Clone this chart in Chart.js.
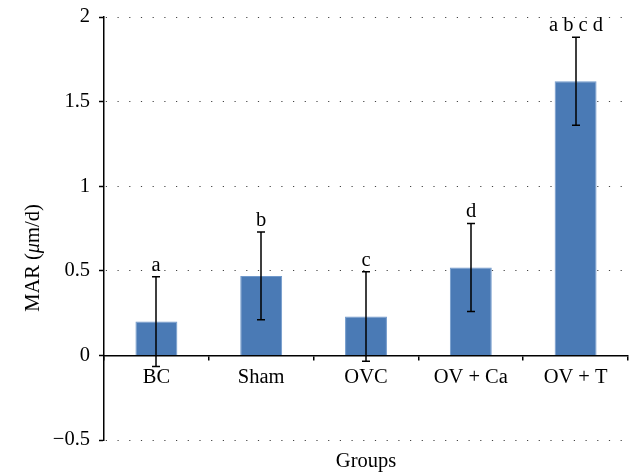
<!DOCTYPE html>
<html>
<head>
<meta charset="utf-8">
<script src="https://cdn.jsdelivr.net/npm/chart.js@4/dist/chart.umd.min.js"></script>
<style>
  html, body { margin: 0; padding: 0; background: #ffffff; }
  #wrap { width: 635px; height: 473px; position: relative; }
</style>
</head>
<body>
<div id="wrap"><canvas id="c" width="635" height="473"></canvas></div>
<script>
// Mineral apposition rate by group
const groups = ['BC', 'Sham', 'OVC', 'OV + Ca', 'OV + T'];
const marMeans = [0.20, 0.47, 0.23, 0.52, 1.62];
const marErrors = [0.265, 0.26, 0.265, 0.26, 0.26];
const sigLetters = ['a', 'b', 'c', 'd', 'a b c d'];
const yTicks = [-0.5, 0, 0.5, 1, 1.5, 2];

const SERIF = '"Liberation Serif", "DejaVu Serif", serif';
const FONT_SIZE = 20.5;

// Error bars, significance letters and axis titles
const overlay = {
  id: 'overlay',
  afterDatasetsDraw(chart) {
    const ctx = chart.ctx;
    const x = chart.scales.x;
    const y = chart.scales.y;
    const area = chart.chartArea;
    ctx.save();
    ctx.strokeStyle = '#000';
    ctx.lineWidth = 1.5;
    ctx.fillStyle = '#000';
    ctx.font = FONT_SIZE + 'px ' + SERIF;
    ctx.textAlign = 'center';
    ctx.textBaseline = 'alphabetic';
    groups.forEach((g, i) => {
      const cx = Math.round(x.getPixelForValue(i));
      const top = y.getPixelForValue(marMeans[i] + marErrors[i]);
      const bot = y.getPixelForValue(marMeans[i] - marErrors[i]);
      ctx.beginPath();
      ctx.moveTo(cx, top); ctx.lineTo(cx, bot);
      ctx.moveTo(cx - 4, top); ctx.lineTo(cx + 4, top);
      ctx.moveTo(cx - 4, bot); ctx.lineTo(cx + 4, bot);
      ctx.stroke();
      ctx.fillText(sigLetters[i], cx, top - 6);
    });

    // x-axis title
    ctx.fillText('Groups', (area.left + area.right) / 2, 467);

    // y-axis title with italic mu
    const parts = [
      { t: 'MAR (', f: FONT_SIZE + 'px ' + SERIF },
      { t: 'μ', f: 'italic ' + FONT_SIZE + 'px ' + SERIF },
      { t: 'm/d)', f: FONT_SIZE + 'px ' + SERIF }
    ];
    let total = 0;
    parts.forEach(p => { ctx.font = p.f; p.w = ctx.measureText(p.t).width; total += p.w; });
    ctx.translate(39, 258);
    ctx.rotate(-Math.PI / 2);
    ctx.textAlign = 'left';
    let px = -total / 2;
    parts.forEach(p => { ctx.font = p.f; ctx.fillText(p.t, px, 0); px += p.w; });
    ctx.restore();
  }
};

new Chart(document.getElementById('c'), {
  type: 'bar',
  data: {
    labels: groups,
    datasets: [{
      data: marMeans,
      backgroundColor: '#4a7ab5',
      borderColor: '#7099cb',
      borderWidth: 1,
      categoryPercentage: 1.0,
      barPercentage: 0.4
    }]
  },
  options: {
    responsive: false,
    animation: false,
    devicePixelRatio: 1,
    layout: { padding: { left: 0, right: 7, top: 17, bottom: 33 } },
    plugins: {
      legend: { display: false },
      tooltip: { enabled: false }
    },
    scales: {
      x: {
        type: 'category',
        position: { y: 0 },
        offset: true,
        border: { display: true, color: '#000', width: 1.5 },
        grid: {
          offset: true,
          drawOnChartArea: false,
          drawTicks: true,
          tickLength: 4,
          color: '#000',
          lineWidth: 1.5
        },
        ticks: {
          color: '#000',
          font: { family: SERIF, size: FONT_SIZE },
          padding: 6,
          maxRotation: 0
        }
      },
      y: {
        min: -0.5,
        max: 2,
        afterFit(scale) {
          scale.width = 104;
          scale.paddingTop = 0;
          scale.paddingBottom = 0;
        },
        afterBuildTicks(scale) { scale.ticks = yTicks.map(v => ({ value: v })); },
        border: {
          display: true,
          color: '#000',
          width: 1.5,
          dash: [1.2, 10.5],
          dashOffset: -1.3
        },
        grid: {
          color: (c) => (c.tick && c.tick.value === 0) ? 'rgba(0,0,0,0)' : '#444',
          lineWidth: 1,
          drawTicks: true,
          tickLength: 5,
          tickColor: '#000',
          tickWidth: 1.5,
          tickBorderDash: []
        },
        ticks: {
          color: '#000',
          font: { family: SERIF, size: FONT_SIZE },
          padding: 9,
          callback: (v) => String(v).replace('-', '\u2212')
        }
      }
    }
  },
  plugins: [overlay]
});
</script>
</body>
</html>
